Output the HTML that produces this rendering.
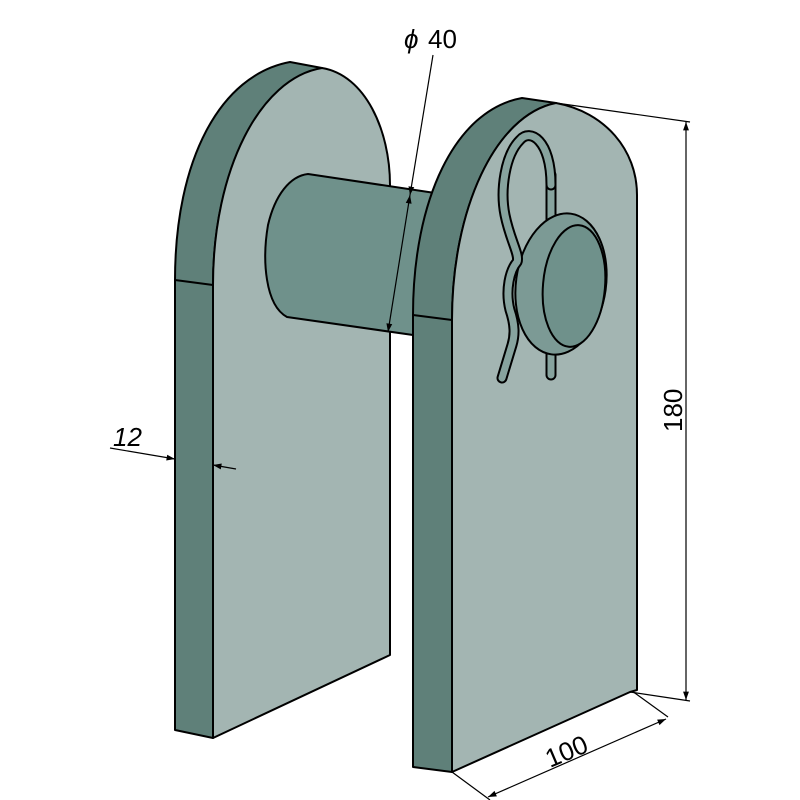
<!DOCTYPE html>
<html><head><style>html,body{margin:0;padding:0;background:#fff}svg{display:block}</style></head>
<body>
<svg width="800" height="800" viewBox="0 0 800 800" xmlns="http://www.w3.org/2000/svg" font-family="Liberation Sans, sans-serif">
<defs>
<marker id="ar" viewBox="0 0 10 10" refX="10" refY="5" markerWidth="12" markerHeight="7" orient="auto-start-reverse"><path d="M0,1.5 L10,5 L0,8.5 z" fill="#000"/></marker>
</defs>
<g stroke="#000" stroke-width="2" stroke-linejoin="round">
<path d="M175,730 L175,280 C175,160 220,75 290,62 L322,68 C260,85 213,170 213,285 L213,738 Z" fill="#5f8079"/>
<line x1="175" y1="280" x2="213" y2="285"/>
<path d="M213,738 L213,285 C213,170 260,78 322,68 C365,75 390,130 390,185 L390,655 Z" fill="#a3b5b2"/>
<path d="M308,174 L435,193 L413,335 L287,317 C265,305 262,260 268,225 C275,195 290,176 308,174 Z" fill="#6f918b"/>
<path d="M413,767 L413,315 C413,200 455,110 522,98 L556,103 C495,115 452,210 452,320 L452,772 Z" fill="#5f8079"/>
<line x1="413" y1="315" x2="452" y2="320"/>
<path d="M452,772 L452,320 C452,210 495,115 556,103 C605,112 637,150 637,195 L637,690 L630,692 Z" fill="#a3b5b2"/>
</g>
<!-- clip: right leg behind head -->
<g fill="none" stroke-linecap="round" stroke-linejoin="round">
<path d="M551,375 L551,175" stroke="#000" stroke-width="11"/>
<path d="M551,375 L551,175" stroke="#87a39e" stroke-width="7"/>
</g>
<g stroke="#000" stroke-width="2">
<ellipse cx="561" cy="284" rx="45" ry="71" transform="rotate(8 561 284)" fill="#7c9a95"/>
<ellipse cx="574" cy="286" rx="31" ry="61" transform="rotate(5 574 286)" fill="#6f918b"/>
</g>
<g fill="none" stroke-linecap="round" stroke-linejoin="round">
<path d="M551,185 C551,140 530,128 520,140 C505,155 500,190 505,215 C510,240 520,255 517,262 C510,270 505,290 510,310 C515,325 515,335 512,345 L502,378" stroke="#000" stroke-width="11"/>
<path d="M551,185 C551,140 530,128 520,140 C505,155 500,190 505,215 C510,240 520,255 517,262 C510,270 505,290 510,310 C515,325 515,335 512,345 L502,378" stroke="#87a39e" stroke-width="7"/>
</g>
<g stroke="#000" stroke-width="1.2" fill="none">
<line x1="433" y1="55" x2="410" y2="195" marker-end="url(#ar)"/>
<line x1="410" y1="195" x2="388" y2="332" marker-end="url(#ar)" marker-start="url(#ar)"/>
<line x1="556" y1="103" x2="690" y2="122"/>
<line x1="630" y1="692" x2="690" y2="701"/>
<line x1="686" y1="122" x2="686" y2="700" marker-start="url(#ar)" marker-end="url(#ar)"/>
<line x1="452" y1="772" x2="490" y2="800"/>
<line x1="632" y1="691" x2="668" y2="717"/>
<line x1="488" y1="797" x2="666" y2="719" marker-start="url(#ar)" marker-end="url(#ar)"/>
<line x1="110" y1="448" x2="175" y2="459" marker-end="url(#ar)"/>
<line x1="236" y1="469" x2="213" y2="465" marker-end="url(#ar)"/>
</g>
<g font-size="26" fill="#000">
<text x="404" y="48" font-style="italic">ϕ</text>
<text x="428" y="48">40</text>
<text x="113" y="446" font-style="italic">12</text>
<text transform="translate(682,432) rotate(-90)">180</text>
<text transform="translate(550,768) rotate(-23)">100</text>
</g>
</svg>
</body></html>
